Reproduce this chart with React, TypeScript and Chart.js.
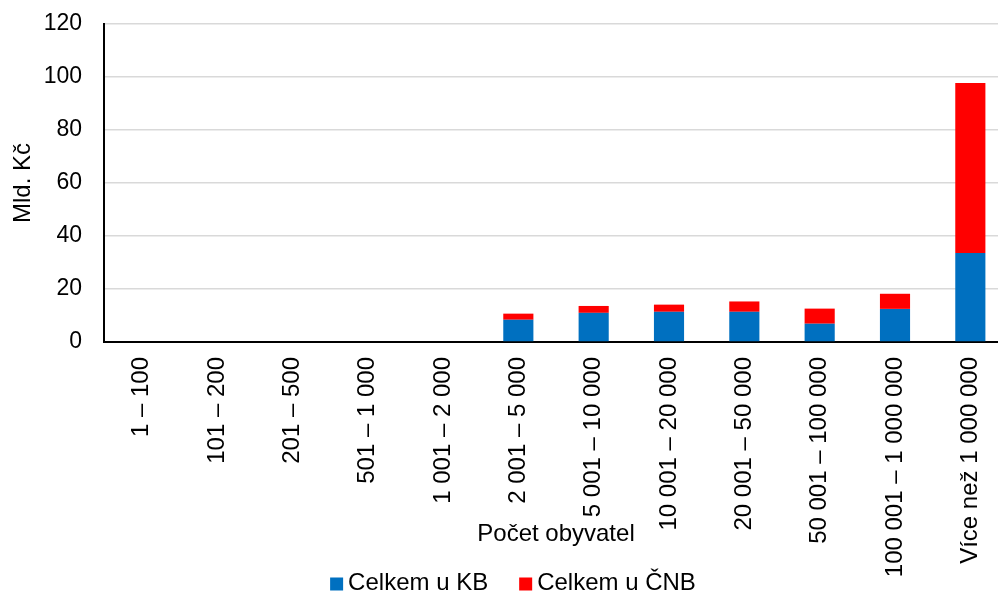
import React, { useEffect, useRef } from "react";
import { Chart, registerables } from "chart.js";

Chart.register(...registerables);

const categories = [
  "1 \u2013 100",
  "101 \u2013 200",
  "201 \u2013 500",
  "501 \u2013 1 000",
  "1 001 \u2013 2 000",
  "2 001 \u2013 5 000",
  "5 001 \u2013 10 000",
  "10 001 \u2013 20 000",
  "20 001 \u2013 50 000",
  "50 001 \u2013 100 000",
  "100 001 \u2013 1 000 000",
  "V\u00edce ne\u017e 1 000 000",
];
const celkemKB = [0, 0, 0, 0, 0, 8.4, 11.0, 11.4, 11.4, 6.9, 12.5, 33.6];
const celkemCNB = [0, 0, 0, 0, 0, 2.3, 2.6, 2.7, 3.9, 5.7, 5.7, 64.1];
const yTicks = [0, 20, 40, 60, 80, 100, 120];

const FONT = "'Liberation Sans', Arial, sans-serif";
const FS = 24;
const FS_Y = 23;

const legendPlugin = {
  id: "customLegend",
  afterDraw(chart: any) {
    const ctx = chart.ctx;
    const ds = chart.data.datasets;
    ctx.save();
    ctx.font = `${FS}px ${FONT}`;
    ctx.textBaseline = "middle";
    ctx.textAlign = "left";
    const box = 13;
    const gap = 5;
    const itemGap = 31;
    const widths = ds.map((d: any) => box + gap + ctx.measureText(d.label).width);
    const total = widths.reduce((a: number, b: number) => a + b, 0) + itemGap * (ds.length - 1);
    let x = 513 - total / 2;
    const cy = 583;
    ds.forEach((d: any, i: number) => {
      ctx.fillStyle = d.backgroundColor;
      ctx.fillRect(x, cy - box / 2 + 1, box, box);
      ctx.fillStyle = "#000";
      ctx.fillText(d.label, x + box + gap, cy);
      x += widths[i] + itemGap;
    });
    ctx.restore();
  },
};

export default function App() {
  const ref = useRef<HTMLCanvasElement>(null);
  useEffect(() => {
    if (!ref.current) return;
    const chart = new Chart(ref.current, {
      type: "bar",
      data: {
        labels: categories,
        datasets: [
          {
            label: "Celkem u KB",
            data: celkemKB,
            backgroundColor: "#0070C0",
            barPercentage: 0.4,
            categoryPercentage: 1,
          },
          {
            label: "Celkem u \u010cNB",
            data: celkemCNB,
            backgroundColor: "#FF0000",
            barPercentage: 0.4,
            categoryPercentage: 1,
          },
        ],
      },
      options: {
        responsive: false,
        animation: false,
        layout: { padding: { top: 24, right: 12, bottom: 0, left: 0 } },
        plugins: {
          legend: { display: false },
          tooltip: { enabled: false },
        },
        scales: {
          x: {
            stacked: true,
            grid: { display: false, drawTicks: false },
            border: { display: true, color: "#000", width: 2 },
            ticks: {
              autoSkip: false,
              minRotation: 90,
              maxRotation: 90,
              padding: 15,
              color: "#000",
              font: { family: FONT, size: FS },
            },
            title: {
              display: true,
              text: "Po\u010det obyvatel",
              color: "#000",
              font: { family: FONT, size: FS },
              padding: { top: 0, bottom: 42 },
            },
            afterFit(scale: any) {
              scale.height = 249;
            },
          },
          y: {
            stacked: true,
            min: 0,
            max: 120,
            afterBuildTicks(scale: any) {
              scale.ticks = yTicks.map((v) => ({ value: v }));
            },
            grid: {
              color: "#D9D9D9",
              lineWidth: 1.5,
              drawTicks: true,
              tickLength: 20,
              tickColor: "rgba(0,0,0,0)",
            },
            border: { display: true, color: "#000", width: 2 },
            ticks: {
              padding: 2,
              color: "#000",
              font: { family: FONT, size: FS_Y },
            },
            title: {
              display: true,
              text: "Mld. K\u010d",
              color: "#000",
              font: { family: FONT, size: FS },
              padding: { top: 9, bottom: 0 },
            },
            afterFit(scale: any) {
              scale.width = 104;
            },
          },
        },
      },
      plugins: [legendPlugin],
    });
    return () => chart.destroy();
  }, []);
  return (
    <div
      style={{
        position: "absolute",
        left: 0,
        top: 0,
        width: 998,
        height: 591,
        overflow: "hidden",
        background: "#fff",
      }}
    >
      <canvas ref={ref} width={1020} height={591} />
    </div>
  );
}
